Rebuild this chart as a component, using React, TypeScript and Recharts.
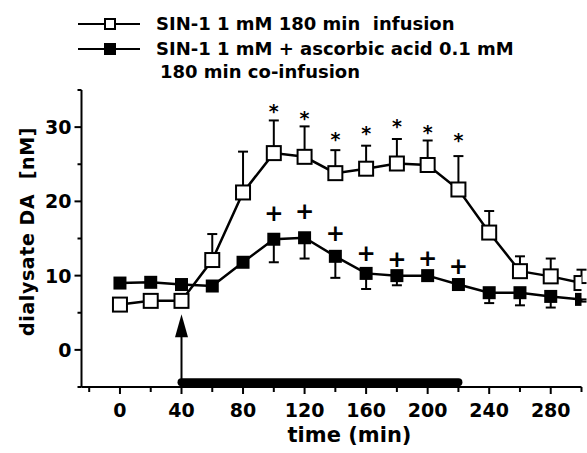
import React from "react";
import { ComposedChart, Line, XAxis, YAxis, ErrorBar, Scatter, ReferenceLine, ReferenceDot, Label } from "recharts";

// sampling times (min)
const TIMES = [0, 20, 40, 60, 80, 100, 120, 140, 160, 180, 200, 220, 240, 260, 280, 300];

// SIN-1 1 mM alone (open squares), SEM drawn upwards
const SIN1_MEAN = [6.1, 6.6, 6.6, 12.1, 21.2, 26.5, 26.0, 23.8, 24.4, 25.1, 24.9, 21.6, 15.8, 10.6, 9.9, 9.0];
const SIN1_SEM = [0.3, 0.4, 0.4, 3.5, 5.5, 4.4, 4.1, 3.1, 3.1, 3.3, 3.3, 4.5, 2.9, 2.0, 2.4, 1.8];

// SIN-1 + ascorbic acid (filled squares), SEM drawn downwards
const ASC_MEAN = [9.0, 9.1, 8.8, 8.6, 11.8, 14.9, 15.1, 12.6, 10.3, 10.0, 10.0, 8.8, 7.7, 7.7, 7.2, 6.8];
const ASC_SEM = [0.3, 0.5, 0.3, 0.3, 0.3, 3.1, 2.8, 2.9, 2.1, 1.3, 0.3, 0.3, 1.4, 1.7, 1.5, 0.3];

// significance markers
const SIG_TIMES = [100, 120, 140, 160, 180, 200, 220];
const STAR_LEVEL = [32.6, 31.7, 28.8, 29.6, 30.6, 29.8, 28.7];
const PLUS_LEVEL = [18.5, 18.7, 15.8, 13.1, 12.2, 12.4, 11.3];

// infusion period
const INFUSION = [40, 220];

const X_TICKS = [-20, 0, 20, 40, 60, 80, 100, 120, 140, 160, 180, 200, 220, 240, 260, 280, 300];
const X_LABELS = [0, 40, 80, 120, 160, 200, 240, 280];
const Y_TICKS = [-5, 0, 5, 10, 15, 20, 25, 30, 35];
const Y_LABELS = [0, 10, 20, 30];

const FONT = "'DejaVu Sans', sans-serif";

const rows = TIMES.map((t, i) => ({
  t,
  open: SIN1_MEAN[i],
  openErr: [0, SIN1_SEM[i]],
  filled: ASC_MEAN[i],
  filledErr: [ASC_SEM[i], 0],
}));
const stars = SIG_TIMES.map((t, i) => ({ t, y: STAR_LEVEL[i] }));
const pluses = SIG_TIMES.map((t, i) => ({ t, y: PLUS_LEVEL[i] }));

function XTick(p: any) {
  const v = p.payload.value;
  const major = X_LABELS.includes(v);
  return (
    <g>
      <line x1={p.x} x2={p.x} y1={p.y} y2={p.y + (major ? 7 : 5)} stroke="#000" strokeWidth={2} />
      {major && (
        <text x={p.x} y={p.y + 30} textAnchor="middle" fontFamily={FONT} fontWeight="bold" fontSize={19} fill="#000">
          {v}
        </text>
      )}
    </g>
  );
}

function YTick(p: any) {
  const v = p.payload.value;
  const major = Y_LABELS.includes(v);
  return (
    <g>
      <line x1={p.x} x2={p.x - (major ? 7 : 4)} y1={p.y} y2={p.y} stroke="#000" strokeWidth={2} />
      {major && (
        <text x={p.x - 10} y={p.y + 7} textAnchor="end" fontFamily={FONT} fontWeight="bold" fontSize={19} fill="#000">
          {v}
        </text>
      )}
    </g>
  );
}

const openDot = (p: any) => (
  <rect key={`o${p.index}`} x={p.cx - 7} y={p.cy - 7} width={14} height={14} fill="#fff" stroke="#000" strokeWidth={2} />
);
const filledDot = (p: any) => (
  <rect key={`f${p.index}`} x={p.cx - 6.5} y={p.cy - 6.5} width={13} height={13} fill="#000" />
);

const starShape = (p: any) => (
  <text x={p.cx} y={p.cy + 10} textAnchor="middle" fontFamily={FONT} fontWeight="bold" fontSize={19} fill="#000">*</text>
);
const plusShape = (p: any) => (
  <text x={p.cx} y={p.cy + 8} textAnchor="middle" fontFamily={FONT} fontWeight="bold" fontSize={23} fill="#000">+</text>
);
const arrowHead = (p: any) => (
  <path d={`M${p.cx},${p.cy} L${p.cx - 6.5},${p.cy + 23} L${p.cx + 6.5},${p.cy + 23} Z`} fill="#000" />
);

const xLabel = (p: any) => {
  const vb = p.viewBox;
  return (
    <text x={vb.x + vb.width / 2 + 18} y={442} textAnchor="middle" fontFamily={FONT} fontWeight="bold" fontSize={21} fill="#000">
      time (min)
    </text>
  );
};
const yLabel = (p: any) => {
  const vb = p.viewBox;
  const cx = 27;
  const cy = vb.y + vb.height / 2 - 7;
  return (
    <text x={cx} y={cy} transform={`rotate(-90, ${cx}, ${cy})`} textAnchor="middle" dominantBaseline="central"
      fontFamily={FONT} fontWeight="bold" fontSize={19} letterSpacing={0.6} fill="#000" style={{ whiteSpace: "pre" }}>
      dialysate DA  [nM]
    </text>
  );
};

function LegendBlock() {
  return (
    <svg width={587} height={90} style={{ position: "absolute", left: 0, top: 0 }}>
      <line x1={78} x2={140} y1={24} y2={24} stroke="#000" strokeWidth={2} />
      <rect x={105} y={19} width={10} height={10} fill="#fff" stroke="#000" strokeWidth={2} />
      <text x={156} y={30} fontFamily={FONT} fontWeight="bold" fontSize={18} fill="#000" style={{ whiteSpace: "pre" }}>
        SIN-1 1 mM 180 min  infusion
      </text>
      <line x1={78} x2={140} y1={49} y2={49} stroke="#000" strokeWidth={2} />
      <rect x={104} y={43} width={12} height={12} fill="#000" />
      <text x={156} y={55} fontFamily={FONT} fontWeight="bold" fontSize={18} fill="#000">
        SIN-1 1 mM + ascorbic acid 0.1 mM
      </text>
      <text x={160} y={78} fontFamily={FONT} fontWeight="bold" fontSize={18} fill="#000">
        180 min co-infusion
      </text>
    </svg>
  );
}

export default function App() {
  return (
    <div style={{ position: "absolute", left: 0, top: 0, width: 587, height: 453, background: "#fff" }}>
      <ComposedChart width={587} height={453} data={rows} margin={{ top: 90, right: 5.5, bottom: 0, left: 0 }}>
        <XAxis type="number" dataKey="t" domain={[-25, 300]} ticks={X_TICKS} interval={0} height={66}
          tickSize={0} tickMargin={0} tickLine={false} axisLine={{ stroke: "#000", strokeWidth: 2 }}
          tick={(p: any) => <XTick {...p} />} allowDataOverflow>
          <Label content={xLabel} />
        </XAxis>
        <YAxis type="number" domain={[-5, 35]} ticks={Y_TICKS} interval={0} width={81.5}
          tickSize={0} tickMargin={0} tickLine={false} axisLine={{ stroke: "#000", strokeWidth: 2 }}
          tick={(p: any) => <YTick {...p} />} allowDataOverflow>
          <Label content={yLabel} />
        </YAxis>
        <ReferenceLine segment={[{ x: INFUSION[0], y: -4.35 }, { x: INFUSION[1], y: -4.35 }]} stroke="#000" strokeWidth={8} strokeLinecap="round" />
        <ReferenceLine segment={[{ x: INFUSION[0], y: -4 }, { x: INFUSION[0], y: 2.5 }]} stroke="#000" strokeWidth={2} />
        <ReferenceDot x={INFUSION[0]} y={4.8} shape={arrowHead} />
        <Line dataKey="filled" stroke="#000" strokeWidth={2.5} dot={filledDot} isAnimationActive={false}>
          <ErrorBar dataKey="filledErr" width={5} stroke="#000" strokeWidth={2} direction="y" />
        </Line>
        <Line dataKey="open" stroke="#000" strokeWidth={2.5} dot={openDot} isAnimationActive={false}>
          <ErrorBar dataKey="openErr" width={5} stroke="#000" strokeWidth={2} direction="y" />
        </Line>
        <Scatter data={stars} dataKey="y" shape={starShape} isAnimationActive={false} />
        <Scatter data={pluses} dataKey="y" shape={plusShape} isAnimationActive={false} />
      </ComposedChart>
      <LegendBlock />
    </div>
  );
}
